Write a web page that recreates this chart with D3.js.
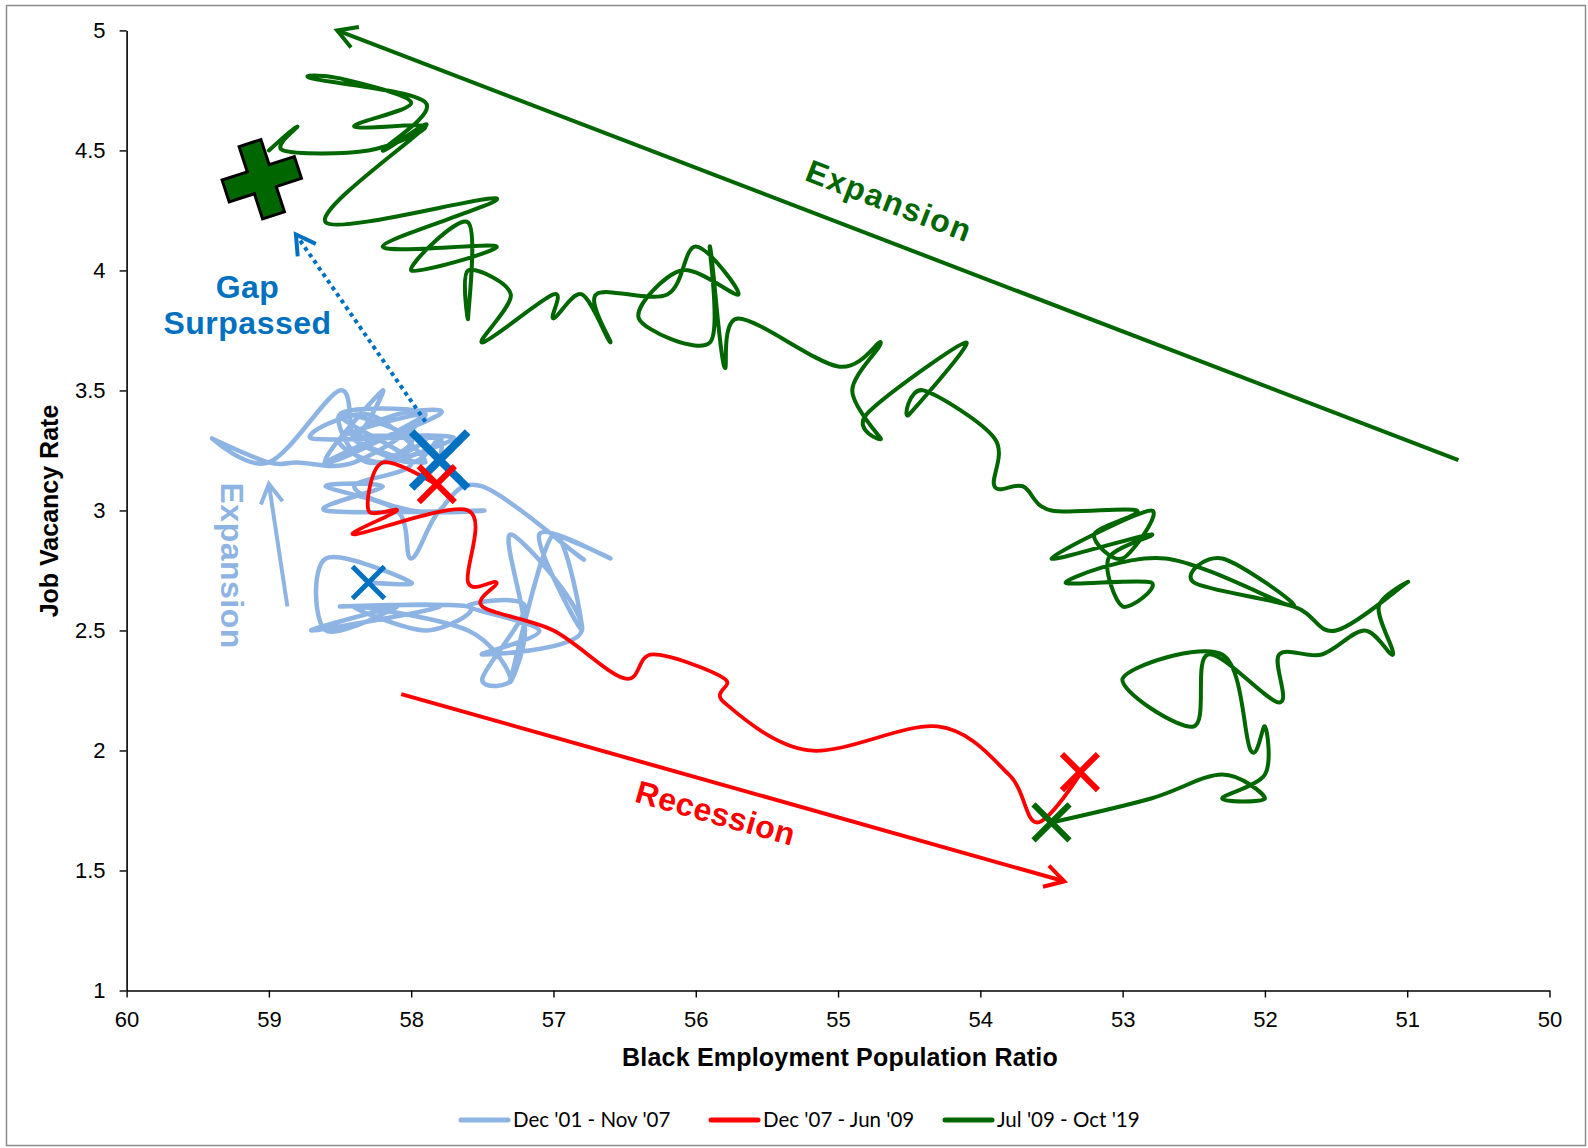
<!DOCTYPE html>
<html lang="en">
<head>
<meta charset="utf-8">
<title>Job Vacancy Rate vs Black Employment Population Ratio</title>
<script src="https://d3js.org/d3.v7.min.js"></script>
<style>
  body { margin: 0; background: #fff; }
  svg text { font-family: "Liberation Sans", Arial, sans-serif; }
</style>
</head>
<body>
<script>
// ---- data (x = Black EPOP, y = job vacancy rate) ----
var seriesNames = ["Dec '01 - Nov '07", "Dec '07 - Jun '09", "Jul '09 - Oct '19"];
var seriesColors = ["#8DB4E2", "#FF0000", "#006600"];

var blueSeries = [
  [58.3,2.7],[58.0,2.7],[58.6,2.8],[58.6,2.5],[58.1,2.6],[58.7,2.5],[57.8,2.6],[58.5,2.6],
  [57.6,2.6],[57.9,2.5],[58.4,2.6],[57.6,2.5],[57.3,2.3],[57.5,2.3],[57.2,2.6],[57.6,2.6],
  [57.1,2.5],[57.5,2.4],[56.8,2.5],[57.3,2.9],[57.2,2.5],[57.3,2.3],[57.0,2.9],[56.8,2.5],
  [57.1,2.9],[56.6,2.8],[57.0,2.9],[56.8,2.8],[57.5,3.1],[57.8,3.0],[58.0,2.8],[58.1,3.0],
  [58.6,3.1],[58.2,3.1],[58.6,3.0],[57.5,3.0],[58.0,3.0],[58.4,3.1],[58.0,3.2],[58.5,3.4],
  [57.9,3.4],[58.4,3.2],[58.8,3.2],[59.0,3.2],[59.4,3.3],[59.0,3.2],[58.5,3.5],[58.4,3.3],
  [58.2,3.5],[58.6,3.2],[57.9,3.4],[58.5,3.3],[58.2,3.2],[57.8,3.3],[58.7,3.3],[58.3,3.4],
  [57.9,3.2],[58.4,3.3],[58.1,3.4],[57.8,3.4],[58.6,3.2],[58.2,3.3],[57.7,3.3],[58.3,3.2],
  [58.5,3.4],[58.0,3.3],[58.2,3.2],[57.9,3.3],[58.4,3.3],[58.0,3.2],[57.8,3.3],[57.8,3.2]
];

var redSeries = [
  [57.8,3.1],[58.2,3.2],[58.3,3.0],[58.1,3.0],[58.4,2.9],[57.6,3.0],[57.6,2.7],[57.4,2.7],
  [57.5,2.6],[57.0,2.5],[56.5,2.3],[56.3,2.4],[55.8,2.3],[55.8,2.2],[55.2,2.0],[54.3,2.1],
  [53.8,1.9],[53.6,1.7],[53.3,1.9]
];

var greenSeries = [
  [53.5,1.7],[52.8,1.8],[52.3,1.9],[52.0,1.8],[52.3,1.8],[52.0,1.9],[52.0,2.1],[52.1,2.0],
  [52.3,2.4],[53.0,2.3],[52.5,2.1],[52.4,2.4],[51.9,2.2],[51.9,2.4],[51.6,2.4],[51.3,2.5],
  [51.1,2.4],[51.2,2.6],[51.0,2.7],[51.5,2.5],[51.8,2.6],[52.5,2.7],[52.3,2.8],[51.8,2.6],
  [52.7,2.8],[53.4,2.7],[52.8,2.7],[53.0,2.6],[53.1,2.8],[52.8,2.9],[53.5,2.8],[52.8,3.0],
  [53.0,2.8],[53.2,2.9],[52.9,3.0],[53.5,3.0],[53.7,3.1],[53.9,3.1],[53.9,3.3],[54.4,3.5],
  [54.5,3.4],[54.1,3.7],[54.8,3.4],[54.7,3.3],[54.9,3.5],[54.7,3.7],[55.0,3.6],[55.7,3.8],
  [55.8,3.6],[55.9,4.1],[55.9,3.7],[56.4,3.8],[56.1,4.0],[55.7,3.9],[56.0,4.1],[56.2,3.9],
  [56.7,3.9],[56.6,3.7],[56.8,3.9],[57.0,3.8],[57.0,3.9],[57.5,3.7],[57.3,3.9],[57.6,4.0],
  [57.6,3.8],[57.6,4.2],[58.0,4.0],[57.4,4.1],[58.2,4.1],[57.4,4.3],[58.6,4.2],[57.9,4.6],
  [58.2,4.5],[57.9,4.7],[58.7,4.8],[58.5,4.8],[58.0,4.7],[58.4,4.6],[57.9,4.6],[58.3,4.5],
  [58.9,4.5],[58.8,4.6],[59.0,4.5]
];

var xTicks = [60, 59, 58, 57, 56, 55, 54, 53, 52, 51, 50];
var yTicks = [1, 1.5, 2, 2.5, 3, 3.5, 4, 4.5, 5];

// highlighted months: [x, y, kind, color, half size, stroke]
var markers = [
  [58.3, 2.7, "x", "#0070C0", 16, 5],
  [57.8, 3.21, "x", "#0070C0", 28, 8],
  [57.82, 3.11, "x", "#FF0000", 18, 6],
  [53.3, 1.91, "x", "#FF0000", 18, 6],
  [53.5, 1.7, "x", "#006600", 18, 6],
  [59.05, 4.38, "plus", "#006600", 38, 3]
];

// arrows: from, to, color, dashed
var arrows = [
  [[50.64, 3.21], [58.52, 5.0], "#006600", false],
  [[58.07, 2.235], [53.41, 1.455], "#FF0000", false],
  [[58.87, 2.6], [59.0, 3.11], "#8DB4E2", false],
  [[57.90, 3.37], [58.81, 4.15], "#0070C0", true]
];

// labels: text, x, y, rotation, color
var notes = [
  ["Expansion", 54.64, 4.29, 21, "#006600"],
  ["Recession", 55.86, 1.74, 15.7, "#FF0000"],
  ["Gap", 59.15, 3.93, 0, "#0070C0"],
  ["Surpassed", 59.15, 3.78, 0, "#0070C0"],
  ["Expansion", 59.26, 2.77, 90, "#8DB4E2"]
];

// ---- chart ----
var width = 1588, height = 1148;
var x = d3.scaleLinear().domain([60, 50]).range([126.6, 1549.5]);
var y = d3.scaleLinear().domain([1, 5]).range([990.5, 30.4]);

var svg = d3.select("body").append("svg")
    .attr("width", width)
    .attr("height", height);

svg.append("rect")
    .attr("x", 6.5).attr("y", 5.5)
    .attr("width", 1579).attr("height", 1140)
    .attr("fill", "#fff")
    .attr("stroke", "#8c8c8c")
    .attr("stroke-width", 1.5);

var xAxis = svg.append("g")
    .attr("transform", "translate(0," + y(1) + ")")
    .call(d3.axisBottom(x).tickValues(xTicks).tickFormat(d3.format("d"))
        .tickSize(7).tickSizeOuter(0).tickPadding(14));
var yAxis = svg.append("g")
    .attr("transform", "translate(" + x(60) + ",0)")
    .call(d3.axisLeft(y).tickValues(yTicks).tickFormat(function(d) { return d; })
        .tickSize(7).tickSizeOuter(0).tickPadding(14));

[xAxis, yAxis].forEach(function(a) {
    a.select(".domain").attr("stroke", "#000").attr("stroke-width", 1.6);
    a.selectAll(".tick line").attr("stroke", "#000").attr("stroke-width", 1.4);
    a.selectAll(".tick text")
        .attr("font-size", 22)
        .attr("fill", "#000");
});

svg.append("text")
    .attr("x", 840).attr("y", 1066)
    .attr("text-anchor", "middle")
    .attr("font-size", 25).attr("font-weight", "bold")
    .attr("letter-spacing", 0.2)
    .text("Black Employment Population Ratio");

svg.append("text")
    .attr("transform", "translate(58,511) rotate(-90)")
    .attr("text-anchor", "middle")
    .attr("font-size", 25).attr("font-weight", "bold")
    .text("Job Vacancy Rate");

// series lines, smoothed like the spreadsheet original
var line = d3.line()
    .x(function(d) { return x(d[0]); })
    .y(function(d) { return y(d[1]); })
    .curve(d3.curveCardinal.tension(0));

var allSeries = [blueSeries, redSeries, greenSeries];
var widths = [4.5, 3.8, 4];
svg.selectAll(".series")
    .data(allSeries)
    .enter().append("path")
    .attr("class", "series")
    .attr("d", line)
    .attr("fill", "none")
    .attr("stroke", function(d, i) { return seriesColors[i]; })
    .attr("stroke-width", function(d, i) { return widths[i]; })
    .attr("stroke-linejoin", "round")
    .attr("stroke-linecap", "round");

// arrows
arrows.forEach(function(a) {
    var x1 = x(a[0][0]), y1 = y(a[0][1]), x2 = x(a[1][0]), y2 = y(a[1][1]);
    var ang = Math.atan2(y2 - y1, x2 - x1), L = 22, sp = Math.PI / 6;
    svg.append("line")
        .attr("x1", x1).attr("y1", y1).attr("x2", x2).attr("y2", y2)
        .attr("stroke", a[2]).attr("stroke-width", 4)
        .attr("stroke-dasharray", a[3] ? "4,4" : null);
    svg.append("path")
        .attr("d", "M" + (x2 - L * Math.cos(ang - sp)) + "," + (y2 - L * Math.sin(ang - sp)) +
            "L" + x2 + "," + y2 +
            "L" + (x2 - L * Math.cos(ang + sp)) + "," + (y2 - L * Math.sin(ang + sp)))
        .attr("fill", "none")
        .attr("stroke", a[2]).attr("stroke-width", 4);
});

// annotation text
notes.forEach(function(n) {
    svg.append("text")
        .attr("transform", "translate(" + x(n[1]) + "," + y(n[2]) + ") rotate(" + n[3] + ")")
        .attr("text-anchor", "middle")
        .attr("dy", "0.35em")
        .attr("font-size", 32)
        .attr("font-weight", "bold")
        .attr("letter-spacing", n[0] === "Expansion" && n[3] !== 90 ? 1.5 : 0.5)
        .attr("fill", n[4])
        .text(n[0]);
});

// markers
markers.forEach(function(m) {
    var g = svg.append("g").attr("transform", "translate(" + x(m[0]) + "," + y(m[1]) + ")");
    var s = m[4];
    if (m[2] === "x") {
        g.append("path")
            .attr("d", "M" + (-s) + "," + (-s) + "L" + s + "," + s + "M" + (-s) + "," + s + "L" + s + "," + (-s))
            .attr("stroke", m[3]).attr("stroke-width", m[5]);
    } else {
        var w = 11.5;
        var pts = [[-w,-s],[w,-s],[w,-w],[s,-w],[s,w],[w,w],[w,s],[-w,s],[-w,w],[-s,w],[-s,-w],[-w,-w]];
        g.append("polygon")
            .attr("points", pts.map(function(p) { return p.join(","); }).join(" "))
            .attr("transform", "rotate(-18)")
            .attr("fill", m[3]).attr("stroke", "#000").attr("stroke-width", m[5])
            .attr("stroke-linejoin", "miter");
    }
});

// legend
var legendX = [461, 711, 945];
var legend = svg.selectAll(".legend")
    .data(seriesNames)
    .enter().append("g")
    .attr("class", "legend")
    .attr("transform", function(d, i) { return "translate(" + legendX[i] + ",1124)"; });
legend.append("line")
    .attr("x1", 0).attr("x2", 47).attr("y1", -4).attr("y2", -4)
    .attr("stroke", function(d, i) { return seriesColors[i]; })
    .attr("stroke-width", 5).attr("stroke-linecap", "round");
legend.append("text")
    .attr("x", 52).attr("y", 3)
    .attr("font-size", 20.5)
    .style("font-family", "'Liberation Sans Narrow', Lato, sans-serif")
    .text(function(d) { return d; });
</script>
</body>
</html>
